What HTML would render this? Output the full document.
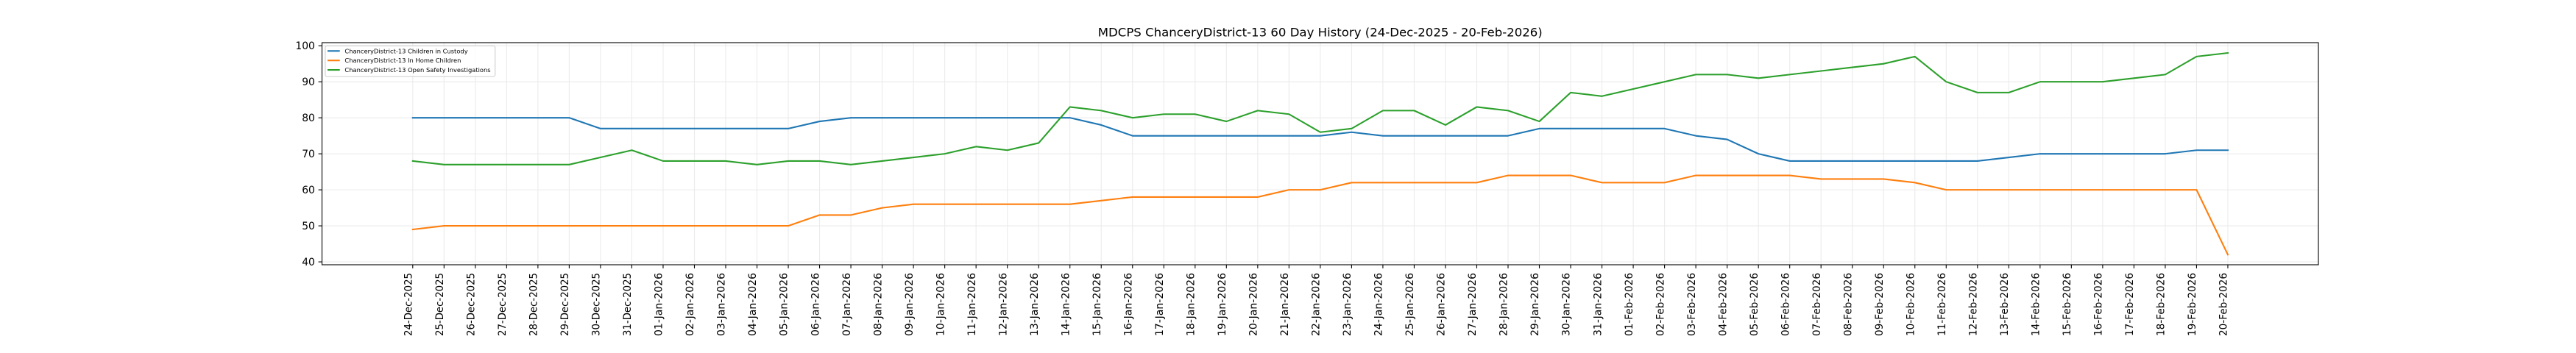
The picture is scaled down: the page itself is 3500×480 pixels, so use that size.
<!DOCTYPE html>
<html>
<head>
<meta charset="utf-8">
<style>
html,body{margin:0;padding:0;background:#fff;}
svg{display:block;}
text{font-family:"DejaVu Sans","Liberation Sans",sans-serif;fill:#000;}
.ns{vector-effect:non-scaling-stroke;fill:none;}
</style>
</head>
<body>
<svg width="3500" height="480" viewBox="0 0 3500 480" xmlns="http://www.w3.org/2000/svg">
<rect x="0" y="0" width="3500" height="480" fill="#fff"/>

<!-- title -->
<text x="1793.75" y="49.3" font-size="16" text-anchor="middle" textLength="604" lengthAdjust="spacingAndGlyphs">MDCPS ChanceryDistrict-13 60 Day History (24-Dec-2025 - 20-Feb-2026)</text>

<!-- horizontal grid -->
<g stroke="#ebebeb" stroke-width="1.1">
<line x1="437.5" x2="3150" y1="356.08" y2="356.08"/>
<line x1="437.5" x2="3150" y1="307.1" y2="307.1"/>
<line x1="437.5" x2="3150" y1="258.12" y2="258.12"/>
<line x1="437.5" x2="3150" y1="209.14" y2="209.14"/>
<line x1="437.5" x2="3150" y1="160.16" y2="160.16"/>
<line x1="437.5" x2="3150" y1="111.18" y2="111.18"/>
<line x1="437.5" x2="3150" y1="62.2" y2="62.2"/>
</g>

<!-- data-space group -->
<g transform="matrix(42.52 0 0 -4.898 560.8 552.0)">
<path class="ns" stroke="#ebebeb" stroke-width="1.1" d="M0 39.2V100.8M1 39.2V100.8M2 39.2V100.8M3 39.2V100.8M4 39.2V100.8M5 39.2V100.8M6 39.2V100.8M7 39.2V100.8M8 39.2V100.8M9 39.2V100.8M10 39.2V100.8M11 39.2V100.8M12 39.2V100.8M13 39.2V100.8M14 39.2V100.8M15 39.2V100.8M16 39.2V100.8M17 39.2V100.8M18 39.2V100.8M19 39.2V100.8M20 39.2V100.8M21 39.2V100.8M22 39.2V100.8M23 39.2V100.8M24 39.2V100.8M25 39.2V100.8M26 39.2V100.8M27 39.2V100.8M28 39.2V100.8M29 39.2V100.8M30 39.2V100.8M31 39.2V100.8M32 39.2V100.8M33 39.2V100.8M34 39.2V100.8M35 39.2V100.8M36 39.2V100.8M37 39.2V100.8M38 39.2V100.8M39 39.2V100.8M40 39.2V100.8M41 39.2V100.8M42 39.2V100.8M43 39.2V100.8M44 39.2V100.8M45 39.2V100.8M46 39.2V100.8M47 39.2V100.8M48 39.2V100.8M49 39.2V100.8M50 39.2V100.8M51 39.2V100.8M52 39.2V100.8M53 39.2V100.8M54 39.2V100.8M55 39.2V100.8M56 39.2V100.8M57 39.2V100.8M58 39.2V100.8"/>
<!-- x tick marks -->
<path class="ns" stroke="#000" stroke-width="1.1" d="M0 39.2V38.21M1 39.2V38.21M2 39.2V38.21M3 39.2V38.21M4 39.2V38.21M5 39.2V38.21M6 39.2V38.21M7 39.2V38.21M8 39.2V38.21M9 39.2V38.21M10 39.2V38.21M11 39.2V38.21M12 39.2V38.21M13 39.2V38.21M14 39.2V38.21M15 39.2V38.21M16 39.2V38.21M17 39.2V38.21M18 39.2V38.21M19 39.2V38.21M20 39.2V38.21M21 39.2V38.21M22 39.2V38.21M23 39.2V38.21M24 39.2V38.21M25 39.2V38.21M26 39.2V38.21M27 39.2V38.21M28 39.2V38.21M29 39.2V38.21M30 39.2V38.21M31 39.2V38.21M32 39.2V38.21M33 39.2V38.21M34 39.2V38.21M35 39.2V38.21M36 39.2V38.21M37 39.2V38.21M38 39.2V38.21M39 39.2V38.21M40 39.2V38.21M41 39.2V38.21M42 39.2V38.21M43 39.2V38.21M44 39.2V38.21M45 39.2V38.21M46 39.2V38.21M47 39.2V38.21M48 39.2V38.21M49 39.2V38.21M50 39.2V38.21M51 39.2V38.21M52 39.2V38.21M53 39.2V38.21M54 39.2V38.21M55 39.2V38.21M56 39.2V38.21M57 39.2V38.21M58 39.2V38.21"/>

<!-- series -->
<polyline class="ns" stroke="#1f77b4" stroke-width="2.1" stroke-linejoin="round" stroke-linecap="square" points="0,80 5,80 6,77 12,77 13,79 14,80 21,80 22,78 23,75 29,75 30,76 31,75 35,75 36,77 40,77 41,75 42,74 43,70 44,68 50,68 51,69 52,70 56,70 57,71 58,71"/>
<polyline class="ns" stroke="#ff7f0e" stroke-width="2.1" stroke-linejoin="round" stroke-linecap="square" points="0,49 1,50 12,50 13,53 14,53 15,55 16,56 21,56 22,57 23,58 27,58 28,60 29,60 30,62 34,62 35,64 37,64 38,62 40,62 41,64 44,64 45,63 47,63 48,62 49,60 57,60 58,42"/>
<polyline class="ns" stroke="#2ca02c" stroke-width="2.1" stroke-linejoin="round" stroke-linecap="square" points="0,68 1,67 5,67 6,69 7,71 8,68 10,68 11,67 12,68 13,68 14,67 15,68 16,69 17,70 18,72 19,71 20,73 21,83 22,82 23,80 24,81 25,81 26,79 27,82 28,81 29,76 30,77 31,82 32,82 33,78 34,83 35,82 36,79 37,87 38,86 39,88 40,90 41,92 42,92 43,91 44,92 45,93 46,94 47,95 48,97 49,90 50,87 51,87 52,90 54,90 55,91 56,92 57,97 58,98"/>
</g>

<!-- spines -->
<rect x="437.5" y="58" width="2712.5" height="302" fill="none" stroke="#000" stroke-width="1.1"/>

<!-- y ticks -->
<g stroke="#000" stroke-width="1.1">
<line x1="432.6" x2="437.5" y1="356.08" y2="356.08"/>
<line x1="432.6" x2="437.5" y1="307.1" y2="307.1"/>
<line x1="432.6" x2="437.5" y1="258.12" y2="258.12"/>
<line x1="432.6" x2="437.5" y1="209.14" y2="209.14"/>
<line x1="432.6" x2="437.5" y1="160.16" y2="160.16"/>
<line x1="432.6" x2="437.5" y1="111.18" y2="111.18"/>
<line x1="432.6" x2="437.5" y1="62.2" y2="62.2"/>
</g>
<g font-size="13.89" text-anchor="end">
<text x="427.9" y="360.9">40</text>
<text x="427.9" y="311.9">50</text>
<text x="427.9" y="262.9">60</text>
<text x="427.9" y="213.9">70</text>
<text x="427.9" y="164.9">80</text>
<text x="427.9" y="116.0">90</text>
<text x="427.9" y="67.0">100</text>
</g>

<!-- x tick labels -->
<g font-size="14.5" text-anchor="end">
<text textLength="86" lengthAdjust="spacingAndGlyphs" transform="translate(559.5 371) rotate(-90)">24-Dec-2025</text>
<text textLength="86" lengthAdjust="spacingAndGlyphs" transform="translate(602.02 371) rotate(-90)">25-Dec-2025</text>
<text textLength="86" lengthAdjust="spacingAndGlyphs" transform="translate(644.54 371) rotate(-90)">26-Dec-2025</text>
<text textLength="86" lengthAdjust="spacingAndGlyphs" transform="translate(687.06 371) rotate(-90)">27-Dec-2025</text>
<text textLength="86" lengthAdjust="spacingAndGlyphs" transform="translate(729.58 371) rotate(-90)">28-Dec-2025</text>
<text textLength="86" lengthAdjust="spacingAndGlyphs" transform="translate(772.10 371) rotate(-90)">29-Dec-2025</text>
<text textLength="86" lengthAdjust="spacingAndGlyphs" transform="translate(814.62 371) rotate(-90)">30-Dec-2025</text>
<text textLength="86" lengthAdjust="spacingAndGlyphs" transform="translate(857.14 371) rotate(-90)">31-Dec-2025</text>
<text textLength="86" lengthAdjust="spacingAndGlyphs" transform="translate(899.66 371) rotate(-90)">01-Jan-2026</text>
<text textLength="86" lengthAdjust="spacingAndGlyphs" transform="translate(942.18 371) rotate(-90)">02-Jan-2026</text>
<text textLength="86" lengthAdjust="spacingAndGlyphs" transform="translate(984.70 371) rotate(-90)">03-Jan-2026</text>
<text textLength="86" lengthAdjust="spacingAndGlyphs" transform="translate(1027.22 371) rotate(-90)">04-Jan-2026</text>
<text textLength="86" lengthAdjust="spacingAndGlyphs" transform="translate(1069.74 371) rotate(-90)">05-Jan-2026</text>
<text textLength="86" lengthAdjust="spacingAndGlyphs" transform="translate(1112.26 371) rotate(-90)">06-Jan-2026</text>
<text textLength="86" lengthAdjust="spacingAndGlyphs" transform="translate(1154.78 371) rotate(-90)">07-Jan-2026</text>
<text textLength="86" lengthAdjust="spacingAndGlyphs" transform="translate(1197.30 371) rotate(-90)">08-Jan-2026</text>
<text textLength="86" lengthAdjust="spacingAndGlyphs" transform="translate(1239.82 371) rotate(-90)">09-Jan-2026</text>
<text textLength="86" lengthAdjust="spacingAndGlyphs" transform="translate(1282.34 371) rotate(-90)">10-Jan-2026</text>
<text textLength="86" lengthAdjust="spacingAndGlyphs" transform="translate(1324.86 371) rotate(-90)">11-Jan-2026</text>
<text textLength="86" lengthAdjust="spacingAndGlyphs" transform="translate(1367.38 371) rotate(-90)">12-Jan-2026</text>
<text textLength="86" lengthAdjust="spacingAndGlyphs" transform="translate(1409.90 371) rotate(-90)">13-Jan-2026</text>
<text textLength="86" lengthAdjust="spacingAndGlyphs" transform="translate(1452.42 371) rotate(-90)">14-Jan-2026</text>
<text textLength="86" lengthAdjust="spacingAndGlyphs" transform="translate(1494.94 371) rotate(-90)">15-Jan-2026</text>
<text textLength="86" lengthAdjust="spacingAndGlyphs" transform="translate(1537.46 371) rotate(-90)">16-Jan-2026</text>
<text textLength="86" lengthAdjust="spacingAndGlyphs" transform="translate(1579.98 371) rotate(-90)">17-Jan-2026</text>
<text textLength="86" lengthAdjust="spacingAndGlyphs" transform="translate(1622.50 371) rotate(-90)">18-Jan-2026</text>
<text textLength="86" lengthAdjust="spacingAndGlyphs" transform="translate(1665.02 371) rotate(-90)">19-Jan-2026</text>
<text textLength="86" lengthAdjust="spacingAndGlyphs" transform="translate(1707.54 371) rotate(-90)">20-Jan-2026</text>
<text textLength="86" lengthAdjust="spacingAndGlyphs" transform="translate(1750.06 371) rotate(-90)">21-Jan-2026</text>
<text textLength="86" lengthAdjust="spacingAndGlyphs" transform="translate(1792.58 371) rotate(-90)">22-Jan-2026</text>
<text textLength="86" lengthAdjust="spacingAndGlyphs" transform="translate(1835.10 371) rotate(-90)">23-Jan-2026</text>
<text textLength="86" lengthAdjust="spacingAndGlyphs" transform="translate(1877.62 371) rotate(-90)">24-Jan-2026</text>
<text textLength="86" lengthAdjust="spacingAndGlyphs" transform="translate(1920.14 371) rotate(-90)">25-Jan-2026</text>
<text textLength="86" lengthAdjust="spacingAndGlyphs" transform="translate(1962.66 371) rotate(-90)">26-Jan-2026</text>
<text textLength="86" lengthAdjust="spacingAndGlyphs" transform="translate(2005.18 371) rotate(-90)">27-Jan-2026</text>
<text textLength="86" lengthAdjust="spacingAndGlyphs" transform="translate(2047.70 371) rotate(-90)">28-Jan-2026</text>
<text textLength="86" lengthAdjust="spacingAndGlyphs" transform="translate(2090.22 371) rotate(-90)">29-Jan-2026</text>
<text textLength="86" lengthAdjust="spacingAndGlyphs" transform="translate(2132.74 371) rotate(-90)">30-Jan-2026</text>
<text textLength="86" lengthAdjust="spacingAndGlyphs" transform="translate(2175.26 371) rotate(-90)">31-Jan-2026</text>
<text textLength="86" lengthAdjust="spacingAndGlyphs" transform="translate(2217.78 371) rotate(-90)">01-Feb-2026</text>
<text textLength="86" lengthAdjust="spacingAndGlyphs" transform="translate(2260.30 371) rotate(-90)">02-Feb-2026</text>
<text textLength="86" lengthAdjust="spacingAndGlyphs" transform="translate(2302.82 371) rotate(-90)">03-Feb-2026</text>
<text textLength="86" lengthAdjust="spacingAndGlyphs" transform="translate(2345.34 371) rotate(-90)">04-Feb-2026</text>
<text textLength="86" lengthAdjust="spacingAndGlyphs" transform="translate(2387.86 371) rotate(-90)">05-Feb-2026</text>
<text textLength="86" lengthAdjust="spacingAndGlyphs" transform="translate(2430.38 371) rotate(-90)">06-Feb-2026</text>
<text textLength="86" lengthAdjust="spacingAndGlyphs" transform="translate(2472.90 371) rotate(-90)">07-Feb-2026</text>
<text textLength="86" lengthAdjust="spacingAndGlyphs" transform="translate(2515.42 371) rotate(-90)">08-Feb-2026</text>
<text textLength="86" lengthAdjust="spacingAndGlyphs" transform="translate(2557.94 371) rotate(-90)">09-Feb-2026</text>
<text textLength="86" lengthAdjust="spacingAndGlyphs" transform="translate(2600.46 371) rotate(-90)">10-Feb-2026</text>
<text textLength="86" lengthAdjust="spacingAndGlyphs" transform="translate(2642.98 371) rotate(-90)">11-Feb-2026</text>
<text textLength="86" lengthAdjust="spacingAndGlyphs" transform="translate(2685.50 371) rotate(-90)">12-Feb-2026</text>
<text textLength="86" lengthAdjust="spacingAndGlyphs" transform="translate(2728.02 371) rotate(-90)">13-Feb-2026</text>
<text textLength="86" lengthAdjust="spacingAndGlyphs" transform="translate(2770.54 371) rotate(-90)">14-Feb-2026</text>
<text textLength="86" lengthAdjust="spacingAndGlyphs" transform="translate(2813.06 371) rotate(-90)">15-Feb-2026</text>
<text textLength="86" lengthAdjust="spacingAndGlyphs" transform="translate(2855.58 371) rotate(-90)">16-Feb-2026</text>
<text textLength="86" lengthAdjust="spacingAndGlyphs" transform="translate(2898.10 371) rotate(-90)">17-Feb-2026</text>
<text textLength="86" lengthAdjust="spacingAndGlyphs" transform="translate(2940.62 371) rotate(-90)">18-Feb-2026</text>
<text textLength="86" lengthAdjust="spacingAndGlyphs" transform="translate(2983.14 371) rotate(-90)">19-Feb-2026</text>
<text textLength="86" lengthAdjust="spacingAndGlyphs" transform="translate(3025.66 371) rotate(-90)">20-Feb-2026</text>
</g>

<!-- legend -->
<rect x="441.9" y="62.3" width="230.8" height="41.7" rx="2.5" ry="2.5" fill="#fff" fill-opacity="0.8" stroke="#cccccc" stroke-width="1.1"/>
<line x1="445" x2="461.7" y1="69.3" y2="69.3" stroke="#1f77b4" stroke-width="2.1"/>
<line x1="445" x2="461.7" y1="82.2" y2="82.2" stroke="#ff7f0e" stroke-width="2.1"/>
<line x1="445" x2="461.7" y1="95.1" y2="95.1" stroke="#2ca02c" stroke-width="2.1"/>
<g font-size="8.33">
<text x="468.4" y="72.3">ChanceryDistrict-13 Children in Custody</text>
<text x="468.4" y="85.2">ChanceryDistrict-13 In Home Children</text>
<text x="468.4" y="98.1">ChanceryDistrict-13 Open Safety Investigations</text>
</g>
</svg>
</body>
</html>
